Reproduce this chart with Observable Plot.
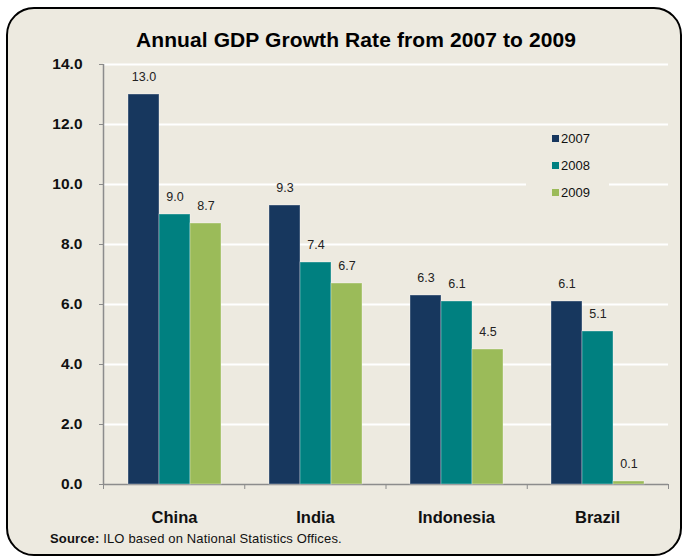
<!DOCTYPE html>
<html>
<head>
<meta charset="utf-8">
<script src="https://cdn.jsdelivr.net/npm/d3@7"></script>
<script src="https://cdn.jsdelivr.net/npm/@observablehq/plot@0.6"></script>
<style>
  html, body { margin: 0; padding: 0; background: #ffffff; }
  body { width: 682px; height: 556px; position: relative; overflow: hidden; font-family: "Liberation Sans", Arial, sans-serif; }
  #frame { position: absolute; left: 6px; top: 7px; width: 672px; height: 545px; border: 2px solid #000; border-radius: 28px; background: #EDEAE0; }
  #title { position: absolute; left: 0; width: 712px; top: 29px; text-align: center; font-size: 21px; font-weight: bold; line-height: 1; color: #000; letter-spacing: 0.1px; }
  .layer { position: absolute; left: 0; top: 0; }
  #legend { position: absolute; left: 526px; top: 128px; width: 83px; height: 80px; background: #EDEAE0; }
  .item { position: absolute; left: 26px; height: 14px; font-size: 13px; line-height: 14px; color: #111; }
  .sw { display: inline-block; width: 7px; height: 7px; margin-right: 2px; vertical-align: 1px; }
  #source { position: absolute; left: 50px; top: 532px; font-size: 13px; line-height: 1; color: #111; letter-spacing: 0.15px; }
</style>
</head>
<body>
<div id="frame"></div>
<div id="title">Annual GDP Growth Rate from 2007 to 2009</div>
<div id="bg" class="layer"></div>
<div id="fg" class="layer"></div>
<div id="legend"></div>
<div id="source"><b>Source:</b> ILO based on National Statistics Offices.</div>
<script>
const countries = ["China", "India", "Indonesia", "Brazil"];
const years = ["2007", "2008", "2009"];
const growth2007 = [13.0, 9.3, 6.3, 6.1];
const growth2008 = [9.0, 7.4, 6.1, 5.1];
const growth2009 = [8.7, 6.7, 4.5, 0.1];
const yTicks = [0, 2, 4, 6, 8, 10, 12, 14];
const colors = ["#17375E", "#008080", "#9BBB59"];

const series = [growth2007, growth2008, growth2009];
const data = [];
countries.forEach((c, i) => years.forEach((y, j) => data.push({country: c, year: y, value: series[j][i]})));
const boundaries = d3.range(countries.length + 1);

const W = 682, H = 556;
const margins = {marginLeft: 103, marginRight: 14, marginTop: 64, marginBottom: 72};
const font = "Liberation Sans, Arial, sans-serif";

const bg = Plot.plot({
  width: W, height: H, ...margins,
  style: {background: "transparent", fontFamily: font, color: "#000"},
  x: {type: "linear", domain: [0, countries.length], axis: null},
  y: {domain: [0, 14], axis: null},
  marks: [
    Plot.gridY(yTicks.filter(d => d > 0), {stroke: "#ffffff", strokeOpacity: 1, strokeWidth: 2}),
    Plot.ruleY([0], {stroke: "#8c8c8c", strokeWidth: 1.5}),
    Plot.ruleX([0], {stroke: "#8c8c8c", strokeWidth: 1.5}),
    Plot.axisY(yTicks, {tickSize: 4, tickPadding: 17, stroke: "#8c8c8c", fill: "#111", fontSize: 15.5, fontWeight: "bold",
      tickFormat: d => d.toFixed(1), style: "letter-spacing:1.8px"}),
    Plot.axisX(boundaries, {anchor: "bottom", tickSize: 5, stroke: "#8c8c8c", tickFormat: () => "", label: null})
  ]
});
document.getElementById("bg").appendChild(bg);

const fg = Plot.plot({
  width: W, height: H, ...margins,
  style: {background: "transparent", fontFamily: font, color: "#000", overflow: "visible"},
  fx: {domain: countries, paddingInner: 1/3, paddingOuter: 1/6, label: null},
  x: {domain: years, padding: 0, axis: null},
  y: {domain: [0, 14], axis: null},
  color: {domain: years, range: colors},
  marks: [
    Plot.axisFx({anchor: "bottom", tickSize: 0, tickPadding: 27, fontSize: 16.5, fontWeight: "bold", fill: "#111", label: null, style: "letter-spacing:1.7px"}),
    Plot.barY(data, {fx: "country", x: "year", y: "value", fill: "year", stroke: "#ffffff", strokeOpacity: 0.35, strokeWidth: 1}),
    Plot.text(data, {fx: "country", x: "year", y: "value", text: d => d.value.toFixed(1), dy: -18, fontSize: 12.5, fill: "#222", style: "letter-spacing:0.3px"})
  ]
});
document.getElementById("fg").appendChild(fg);

const legend = document.getElementById("legend");
const rowCenters = [11, 38, 65];
years.forEach((y, j) => {
  const it = document.createElement("div");
  it.className = "item";
  it.style.top = (rowCenters[j] - 7) + "px";
  it.innerHTML = `<span class="sw" style="background:${colors[j]}"></span>${y}`;
  legend.appendChild(it);
});
</script>
</body>
</html>
